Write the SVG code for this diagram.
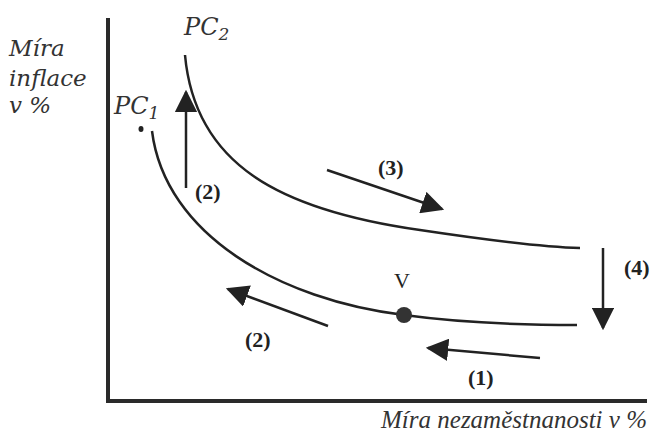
<svg xmlns="http://www.w3.org/2000/svg" width="656" height="439" viewBox="0 0 656 439">
<defs>
<style>
.lbl{font-family:"DejaVu Serif","Liberation Serif",serif;font-style:italic;font-size:23px;fill:#333}
.lbl2{font-family:"Liberation Serif","Times New Roman",serif;font-style:italic;font-size:25px;fill:#333}
.pc{font-family:"DejaVu Serif","Liberation Serif",serif;font-style:italic;font-size:24px;fill:#333}
.num{font-family:"Liberation Serif","Times New Roman",serif;font-weight:bold;font-size:22px;fill:#222}
.curve{fill:none;stroke:#222;stroke-width:2.5}
.arr{fill:none;stroke:#222;stroke-width:2.5}
.axis{fill:none;stroke:#2a2a2a;stroke-width:4}
</style>
<marker id="ahb" viewBox="0 0 10 10" refX="9" refY="5" markerWidth="9" markerHeight="9" orient="auto">
<path d="M0,0 L10,5 L0,10 Z" fill="#222"/>
</marker>
</defs>
<rect width="656" height="439" fill="#fff"/>
<g id="axes">
<path class="axis" d="M108,18 L108,401 L647,401"/>
<text class="lbl" x="9" y="56">Míra</text>
<text class="lbl" x="9" y="86">inflace</text>
<text class="lbl" x="9" y="113">v %</text>
<text class="lbl2" x="647" y="428" text-anchor="end">Míra nezaměstnanosti v %</text>
</g>
<g id="pc1">
<path class="curve" d="M152,131 C165,235 280,300 404,315 C470,324 530,325 577,325"/>
<text class="pc" x="114" y="114">PC<tspan font-size="17" dy="5">1</tspan></text>
<ellipse cx="141" cy="129" rx="2.5" ry="3" fill="#222"/>
</g>
<g id="pc2">
<path class="curve" d="M185,55 C195,165 280,210 420,230 C480,239 540,247 580,248"/>
<text class="pc" x="184" y="35">PC<tspan font-size="17" dy="5">2</tspan></text>
</g>
<g id="V">
<circle cx="404" cy="315" r="8" fill="#333"/>
<text x="402" y="288" text-anchor="middle" font-family="Liberation Serif, serif" font-size="22" fill="#222">V</text>
</g>
<g id="connectors">
<path class="arr" d="M186,188 L186,92" marker-end="url(#ahb)"/>
<path class="arr" d="M327,170 L442,209" marker-end="url(#ahb)"/>
<path class="arr" d="M603,248 L603,328" marker-end="url(#ahb)"/>
<path class="arr" d="M328,326 L228,289" marker-end="url(#ahb)"/>
<path class="arr" d="M540,358 L428,348" marker-end="url(#ahb)"/>
</g>
<g id="labels">
<text class="num" x="195" y="199">(2)</text>
<text class="num" x="378" y="175">(3)</text>
<text class="num" x="624" y="275">(4)</text>
<text class="num" x="245" y="347">(2)</text>
<text class="num" x="468" y="385">(1)</text>
</g>
</svg>
